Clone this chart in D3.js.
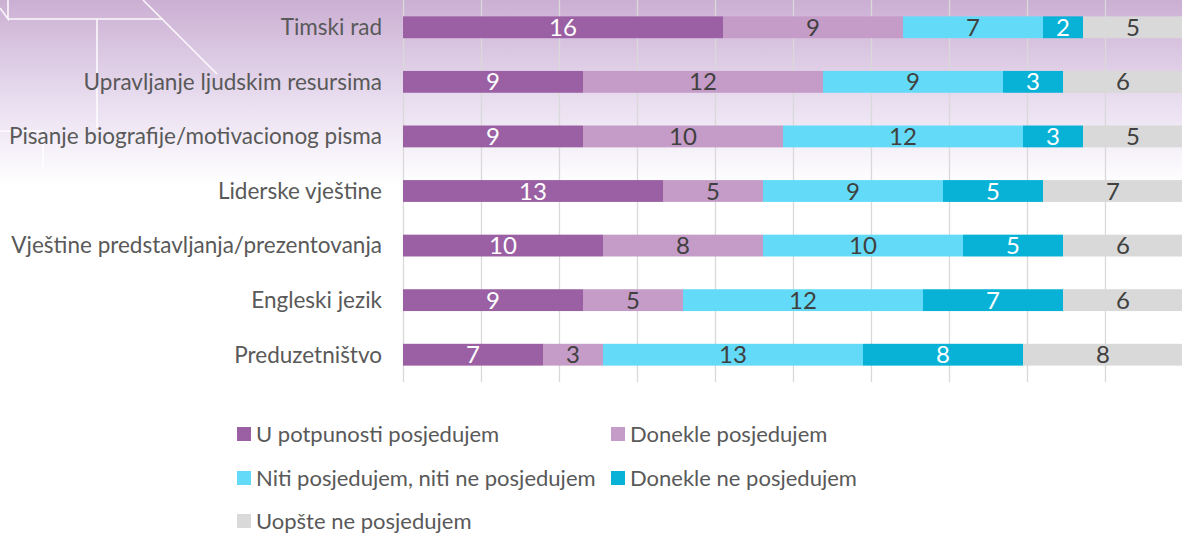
<!DOCTYPE html>
<meta charset="utf-8">
<script src="https://d3js.org/d3.v7.min.js"></script>
<style>
  body { margin: 0; background: #fff; }
  svg text { font-family: Lato, "Open Sans", sans-serif; }
</style>
<body>
  <div id="chart"></div>
</body>
<script>

  // categories, top to bottom
  var skills = ["Timski rad", "Upravljanje ljudskim resursima", "Pisanje biografije/motivacionog pisma",
    "Liderske vještine", "Vještine predstavljanja/prezentovanja", "Engleski jezik", "Preduzetništvo"];

  var seriesNames = ["U potpunosti posjedujem", "Donekle posjedujem", "Niti posjedujem, niti ne posjedujem",
    "Donekle ne posjedujem", "Uopšte ne posjedujem"];

  // one array per series, same order as skills
  var potpuno = [16, 9, 9, 13, 10, 9, 7];
  var donekle = [9, 12, 10, 5, 8, 5, 3];
  var niti = [7, 9, 12, 9, 10, 12, 13];
  var donekleNe = [2, 3, 3, 5, 5, 7, 8];
  var uopste = [5, 6, 5, 7, 6, 6, 8];

  var gridTicks = [0, 0.1, 0.2, 0.3, 0.4, 0.5, 0.6, 0.7, 0.8, 0.9, 1];

  var colors = ["#9b5fa3", "#c49cc7", "#63dbf8", "#07b2d6", "#d9d9d9"];
  var labelColors = ["#ffffff", "#404040", "#404040", "#ffffff", "#404040"];

  var W = 1182, H = 535;
  var plot = { left: 403, right: 1183, top: 0, bottom: 382 };

  var svg = d3.select("#chart").append("svg")
    .attr("width", W)
    .attr("height", H);

  // background gradient
  var defs = svg.append("defs");
  var grad = defs.append("linearGradient")
    .attr("id", "bg")
    .attr("x1", 0).attr("y1", 0).attr("x2", 0).attr("y2", 1);
  grad.append("stop").attr("offset", "0").attr("stop-color", "#cbafd3");
  grad.append("stop").attr("offset", "0.55").attr("stop-color", "#e9def0");
  grad.append("stop").attr("offset", "1").attr("stop-color", "#ffffff");

  svg.append("rect")
    .attr("width", W)
    .attr("height", 185)
    .attr("fill", "url(#bg)");

  // decorative white lines top-left
  var deco = svg.append("g")
    .attr("stroke", "#ffffff")
    .attr("stroke-width", 1.6)
    .attr("fill", "none")
    .attr("opacity", 0.9);
  deco.append("path").attr("d", "M0,8 L8,19 L8,0 M8,19 L163,19");
  deco.append("path").attr("d", "M143,0 L217,74");
  deco.append("path").attr("d", "M97,19 L97,128");
  deco.append("path").attr("d", "M0,131 L43,131 L43,168");

  // build stacked table
  var table = skills.map(function (s, i) {
    return { skill: s, vals: [potpuno[i], donekle[i], niti[i], donekleNe[i], uopste[i]] };
  });
  table.forEach(function (row) {
    row.total = d3.sum(row.vals);
    var acc = 0;
    row.segs = row.vals.map(function (v, k) {
      var seg = { k: k, v: v, x0: acc / row.total, x1: (acc + v) / row.total, skill: row.skill };
      acc += v;
      return seg;
    });
  });

  var x = d3.scaleLinear()
    .domain([0, 1])
    .range([plot.left, plot.right]);

  var y = d3.scaleBand()
    .domain(skills)
    .range([plot.top, plot.bottom])
    .paddingInner(0.6)
    .paddingOuter(0.3);

  // gridlines
  svg.append("g")
    .attr("transform", "translate(0," + plot.top + ")")
    .call(d3.axisBottom(x).tickValues(gridTicks).tickSize(plot.bottom - plot.top).tickFormat(""))
    .call(function (g) {
      g.select(".domain").remove();
      g.selectAll(".tick line").attr("stroke", "#d9d9d9").attr("stroke-width", 1.3);
    });

  // bars
  var rows = svg.append("g")
    .selectAll("g")
    .data(table)
    .enter()
    .append("g");

  rows.selectAll("rect")
    .data(function (d) { return d.segs; })
    .enter()
    .append("rect")
    .attr("x", function (d) { return x(d.x0); })
    .attr("y", function (d) { return y(d.skill); })
    .attr("width", function (d) { return x(d.x1) - x(d.x0); })
    .attr("height", y.bandwidth())
    .attr("fill", function (d) { return colors[d.k]; });

  rows.selectAll("text")
    .data(function (d) { return d.segs; })
    .enter()
    .append("text")
    .attr("x", function (d) { return (x(d.x0) + x(d.x1)) / 2; })
    .attr("y", function (d) { return y(d.skill) + y.bandwidth() / 2; })
    .attr("dy", "0.36em")
    .attr("text-anchor", "middle")
    .attr("font-size", 24)
    .attr("fill", function (d) { return labelColors[d.k]; })
    .text(function (d) { return d.v; });

  // category labels
  svg.append("g")
    .selectAll("text")
    .data(skills)
    .enter()
    .append("text")
    .attr("x", 382)
    .attr("y", function (d) { return y(d) + y.bandwidth() / 2; })
    .attr("dy", "0.35em")
    .attr("text-anchor", "end")
    .attr("font-size", 22.5)
    .attr("fill", "#595959")
    .text(function (d) { return d; });

  // legend
  var legendPos = [[237, 434], [611, 434], [237, 478], [611, 478], [237, 521]];
  var legend = svg.append("g")
    .selectAll("g")
    .data(seriesNames)
    .enter()
    .append("g")
    .attr("transform", function (d, i) { return "translate(" + legendPos[i][0] + "," + legendPos[i][1] + ")"; });

  legend.append("rect")
    .attr("x", 0)
    .attr("y", -7)
    .attr("width", 14)
    .attr("height", 14)
    .attr("fill", function (d, i) { return colors[i]; });

  legend.append("text")
    .attr("x", 19)
    .attr("y", 0)
    .attr("dy", "0.35em")
    .attr("font-size", 22)
    .attr("fill", "#595959")
    .text(function (d) { return d; });

</script>
